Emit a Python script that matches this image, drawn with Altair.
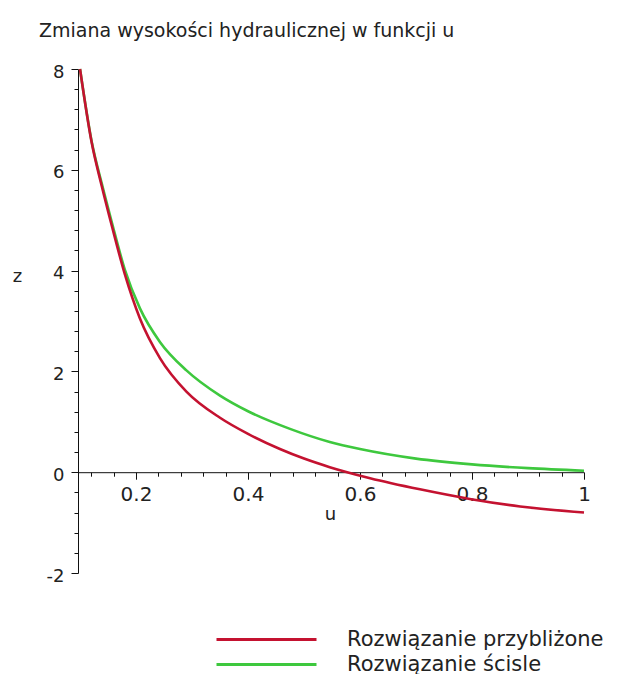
import altair as alt
import pandas as pd

# Values
u_przyb = [0.1, 0.121, 0.139, 0.157, 0.18, 0.207, 0.243, 0.29, 0.35, 0.4, 0.457, 0.5, 0.546, 0.577, 0.618, 0.707, 0.796, 0.886, 1.0]
z_przyb = [8.0, 6.53, 5.67, 4.88, 3.93, 3.05, 2.26, 1.60, 1.08, 0.76, 0.46, 0.27, 0.10, 0.0, -0.12, -0.34, -0.53, -0.68, -0.80]

u_scisle = [0.1, 0.121, 0.139, 0.157, 0.18, 0.207, 0.243, 0.29, 0.35, 0.4, 0.475, 0.546, 0.6, 0.7, 0.8, 0.9, 1.0]
z_scisle = [8.0, 6.55, 5.72, 4.95, 4.02, 3.25, 2.58, 2.02, 1.52, 1.21, 0.86, 0.60, 0.46, 0.27, 0.155, 0.08, 0.03]

series = ["Rozwiązanie przybliżone", "Rozwiązanie ścisle"]
colors = ["#c41230", "#3ec83e"]

x_ticks = [0.12, 0.16, 0.2, 0.24, 0.28, 0.32, 0.36, 0.4, 0.44, 0.48, 0.52, 0.56,
           0.6, 0.64, 0.68, 0.72, 0.76, 0.8, 0.84, 0.88, 0.92, 0.96, 1.0]
y_ticks = [-2, -1.6, -1.2, -0.8, -0.4, 0, 0.4, 0.8, 1.2, 1.6, 2, 2.4, 2.8, 3.2, 3.6,
           4, 4.4, 4.8, 5.2, 5.6, 6, 6.4, 6.8, 7.2, 7.6, 8]

title_text = "Zmiana wysokości hydraulicznej w funkcji u"
FONT = "DejaVu Sans"

df_p = pd.DataFrame({"u": u_przyb, "z": z_przyb, "seria": series[0]})
df_s = pd.DataFrame({"u": u_scisle, "z": z_scisle, "seria": series[1]})

x_major = "abs(datum.value*5 - round(datum.value*5)) < 0.01"
y_major = "abs(datum.value/2 - round(datum.value/2)) < 0.01"

x_enc = alt.X(
    "u:Q",
    scale=alt.Scale(domain=[0.0964, 1.0], nice=False, zero=False),
    axis=alt.Axis(
        values=x_ticks,
        offset=-100.8,
        title="u",
        titleAngle=0,
        titleX=252,
        titleY=42,
        titleAlign="center",
        titleBaseline="middle",
        titleFont=FONT,
        titleFontSize=18,
        titleFontWeight="normal",
        titleColor="#222222",
        labelExpr=f"{x_major} ? ('' + datum.value) : ''",
        labelFont=FONT,
        labelFontSize=20,
        labelColor="#222222",
        labelPadding=5,
        labelFlush=False,
        labelOverlap=False,
        tickSize={"condition": {"test": x_major, "value": 7}, "value": 4},
        tickColor="#111111",
        domainColor="#111111",
        grid=False,
    ),
)

y_enc = alt.Y(
    "z:Q",
    scale=alt.Scale(domain=[-2, 8], nice=False, zero=False),
    axis=alt.Axis(
        values=y_ticks,
        title="z",
        titleAngle=0,
        titleX=-61,
        titleY=207,
        titleAlign="center",
        titleBaseline="middle",
        titleFont=FONT,
        titleFontSize=18,
        titleFontWeight="normal",
        titleColor="#222222",
        labelExpr=f"{y_major} ? ('' + datum.value) : ''",
        labelFont=FONT,
        labelFontSize=18,
        labelColor="#222222",
        labelPadding=7,
        labelOffset=3,
        labelFlush=False,
        labelOverlap=False,
        tickSize={"condition": {"test": y_major, "value": 7}, "value": 4},
        tickColor="#111111",
        domainColor="#111111",
        grid=False,
    ),
)

# custom wide stroke symbol: length = 5 * sqrt(size) = 100 px, row height stays small
color_enc = alt.Color(
    "seria:N",
    scale=alt.Scale(domain=series, range=colors),
    legend=alt.Legend(
        title=None,
        orient="none",
        legendX=177,
        legendY=559,
        padding=0,
        symbolType="M-5,0H5",
        symbolSize=400,
        symbolStrokeWidth=3,
        labelFont=FONT,
        labelFontSize=21,
        labelColor="#222222",
        labelLimit=500,
        labelOffset=69,
        rowPadding=3,
    ),
)

green = alt.Chart(df_s).mark_line(strokeWidth=2.6, interpolate="monotone").encode(
    x=x_enc, y=y_enc, color=color_enc
)
red = alt.Chart(df_p).mark_line(strokeWidth=2.6, interpolate="monotone").encode(
    x=x_enc, y=y_enc, color=color_enc
)

chart = (
    alt.layer(green, red)
    .properties(
        width=506,
        height=504,
        padding={"left": 70, "top": 61, "right": 44, "bottom": 101},
        autosize=alt.AutoSizeParams(type="none"),
        title=alt.Title(
            title_text,
            anchor="start",
            frame="group",
            dx=-39,
            offset=22,
            font=FONT,
            fontSize=19,
            fontWeight="normal",
            color="#222222",
        ),
    )
    .configure_view(stroke=None)
)

chart.save("out.html", embed_options={"renderer": "svg", "actions": False})
